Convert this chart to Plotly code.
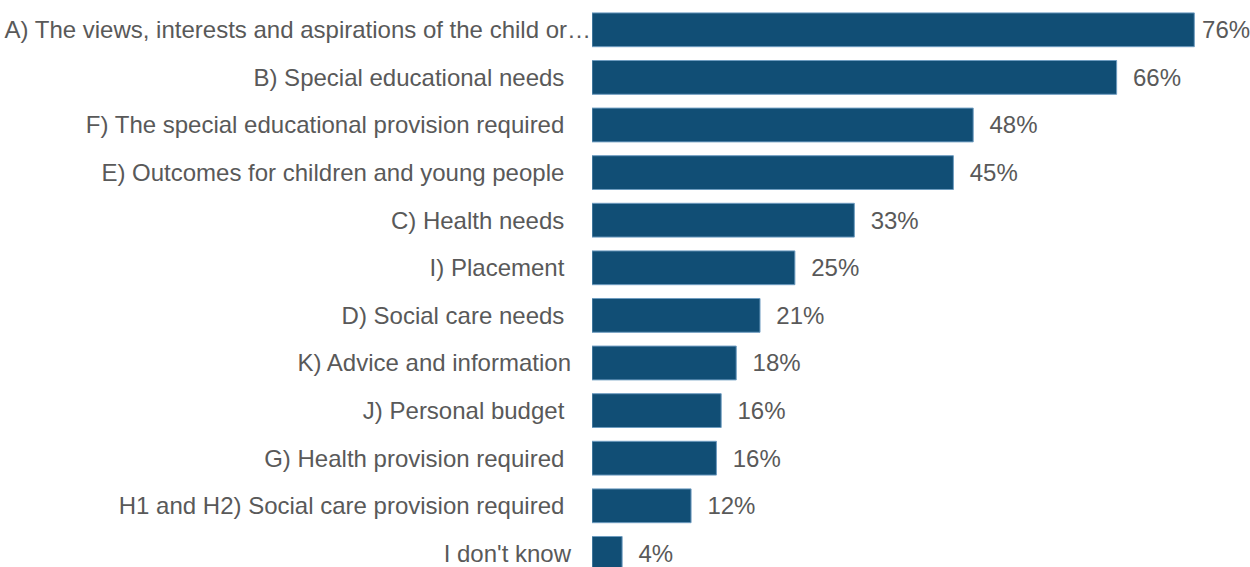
import plotly.graph_objects as go

NB = "\u00a0"

categories = [
    "A) The views, interests and aspirations of the child or\u2026",
    "B) Special educational needs",
    "F) The special educational provision required",
    "E) Outcomes for children and young people",
    "C) Health needs",
    "I) Placement",
    "D) Social care needs",
    "K) Advice and information",
    "J) Personal budget",
    "G) Health provision required",
    "H1 and H2) Social care provision required",
    "I don't know",
]
values = [76.0, 66.2, 48.1, 45.6, 33.1, 25.6, 21.2, 18.2, 16.3, 15.7, 12.5, 3.8]
value_labels = ["76%", "66%", "48%", "45%", "33%", "25%", "21%", "18%", "16%", "16%", "12%", "4%"]
label_pad = [0, 4, 4, 4, 4, 4, 4, 3, 4, 4, 4, 3]
value_pad = ["\u2009"] + [NB * 2] * 11

tick_text = [c + NB * p for c, p in zip(categories, label_pad)]
ypos = list(range(len(categories)))

FONT = "Liberation Sans, Arial, sans-serif"

fig = go.Figure(
    go.Bar(
        x=values,
        y=ypos,
        orientation="h",
        width=0.71,
        marker=dict(color="#114E75", line=dict(color="#6E9CC0", width=1)),
        text=[p + t for p, t in zip(value_pad, value_labels)],
        textposition="outside",
        cliponaxis=False,
        textfont=dict(family=FONT, size=24, color="#595959"),
        hoverinfo="skip",
    )
)

fig.update_layout(
    width=1250,
    height=567,
    margin=dict(l=592, r=24, t=6, b=0),
    paper_bgcolor="white",
    plot_bgcolor="white",
    showlegend=False,
    font=dict(family=FONT, size=24, color="#595959"),
    xaxis=dict(range=[0, 80], visible=False, showgrid=False, zeroline=False),
    yaxis=dict(
        range=[11.286, -0.5],
        tickmode="array",
        tickvals=ypos,
        ticktext=tick_text,
        showgrid=False,
        zeroline=False,
        showline=False,
        ticks="",
        ticklabelstandoff=0,
        tickfont=dict(family=FONT, size=24, color="#595959"),
    ),
)

fig.write_html("out.html")
